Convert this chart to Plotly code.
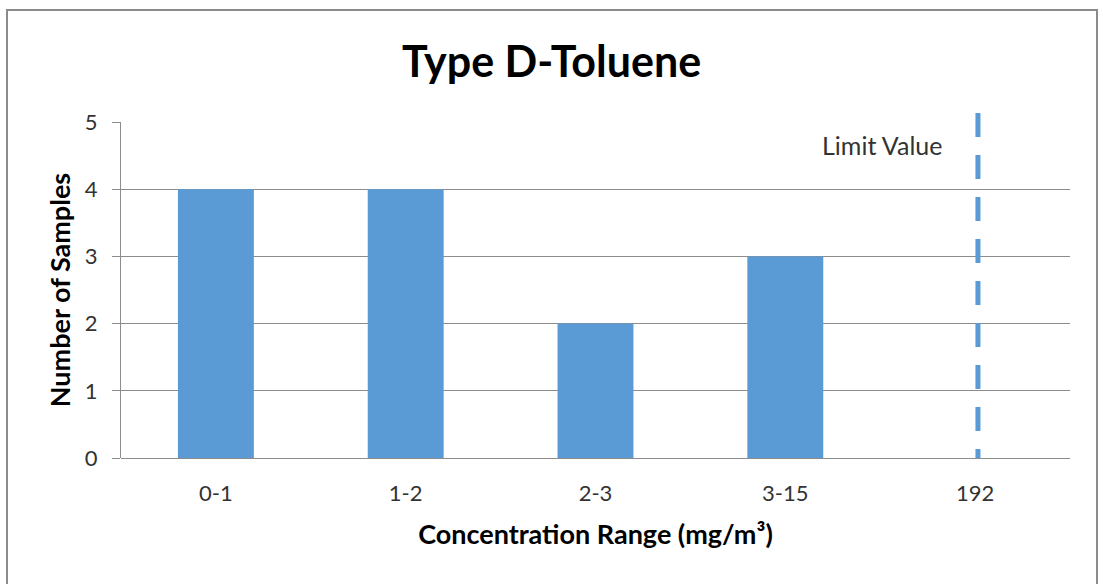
import plotly.graph_objects as go

categories = ["0-1", "1-2", "2-3", "3-15", "192"]
samples = [4, 4, 2, 3, 0]
limit_category = "192"
limit_label = "Limit Value"
title_text = "Type D-Toluene"
x_title = "Concentration Range (mg/m³)"
y_title = "Number of Samples"
y_ticks = [0, 1, 2, 3, 4, 5]

W, H = 1103, 584
L, R, T, B = 121, 33, 122, 126
pw, ph = W - L - R, H - T - B

FONT = "Lato, 'Open Sans', sans-serif"
BAR = "#5B9BD5"
GRID = "#8C8C8C"

limit_idx = categories.index(limit_category)

fig = go.Figure()
fig.add_trace(go.Bar(
    x=categories, y=samples, marker=dict(color=BAR, line=dict(width=0)),
    width=0.4, showlegend=False, hoverinfo="x+y",
))

# limit line (dashed), extending slightly above the plot area
fig.add_shape(type="line", xref="x", yref="paper",
              x0=limit_idx, x1=limit_idx,
              y0=(ph + 9) / ph, y1=0,
              x0shift=0.015, x1shift=0.015,
              line=dict(color=BAR, width=5, dash="24px,18px"), layer="above")

fig.add_annotation(x=limit_idx, xref="x", y=5, yref="y",
                   xshift=-93, yshift=-23, text=limit_label, showarrow=False,
                   font=dict(family=FONT, size=25, color="#333333"))

# outer chart border
fig.add_shape(type="rect", xref="paper", yref="paper",
              x0=(7 - L) / pw, x1=(1097 - L) / pw,
              y0=(H - B - 600) / ph, y1=(H - B - 10) / ph,
              line=dict(color="#8C8C8C", width=2), fillcolor="rgba(0,0,0,0)",
              layer="below")

fig.update_layout(
    width=W, height=H,
    margin=dict(l=L, r=R, t=T, b=B),
    paper_bgcolor="white", plot_bgcolor="white",
    title=dict(text=f"<b>{title_text}</b>", x=0.5, xanchor="center",
               y=1 - 62 / H, yanchor="middle",
               font=dict(family=FONT, size=43, color="black")),
    font=dict(family=FONT, color="#404040"),
    bargap=0.6,
)
fig.update_xaxes(
    type="category", categoryorder="array", categoryarray=categories,
    showgrid=False, showline=False, ticks="", zeroline=False,
    tickfont=dict(family=FONT, size=22, color="#333333"),
    ticklabelstandoff=20,
    title=dict(text=f"<b>{x_title}</b>", standoff=20,
               font=dict(family=FONT, size=27, color="black")),
    range=[-0.5, len(categories) - 0.5],
)
fig.update_yaxes(
    range=[0, 5], tickvals=y_ticks, ticktext=[str(v) for v in y_ticks],
    showgrid=True, gridcolor=GRID, gridwidth=1,
    zeroline=True, zerolinecolor=GRID, zerolinewidth=1,
    showline=True, linecolor=GRID, linewidth=1,
    ticks="outside", ticklen=8, tickcolor=GRID,
    ticklabelstandoff=10,
    tickfont=dict(family=FONT, size=22, color="#333333"),
    title=dict(text=f"<b>{y_title}</b>", standoff=6,
               font=dict(family=FONT, size=27, color="black")),
)

fig.write_html("out.html")
